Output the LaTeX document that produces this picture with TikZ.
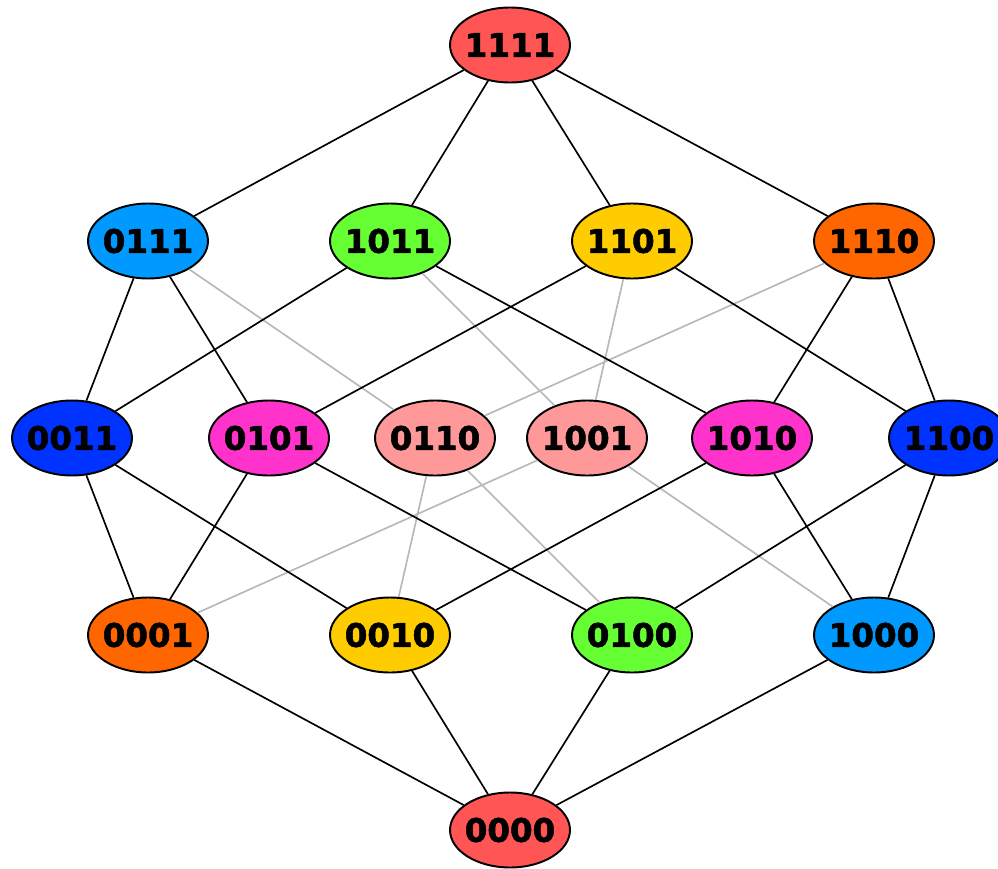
\documentclass[tikz,border=0pt]{standalone}
\usepackage{fontspec}
\setmainfont{DejaVu Sans}
\newfontfamily\rankfont{DejaVu Sans Bold}[FakeBold=1.6]
\usepackage{tikz}
\usetikzlibrary{shapes.geometric}

\definecolor{redtop}{HTML}{FF5555}
\definecolor{skyblue}{HTML}{0099FF}
\definecolor{limegreen}{HTML}{66FF33}
\definecolor{goldyellow}{HTML}{FFCC00}
\definecolor{darkorange}{HTML}{FF6600}
\definecolor{royalblue}{HTML}{0033FF}
\definecolor{hotpink}{HTML}{FF33CC}
\definecolor{salmonpink}{HTML}{FF9999}

\tikzset{
  elem/.style={ellipse, draw=black, line width=1.1pt, fill=#1,
    minimum width=2.4cm, minimum height=1.5cm, inner sep=-4pt,
    font=\rankfont\fontsize{18.5}{20}\selectfont},
  cover/.style={draw=black, line width=0.95pt},
  faint/.style={draw=black!28, line width=0.95pt}
}

\begin{document}
\begin{tikzpicture}[x=0.02cm, y=-0.02cm]
  \useasboundingbox (0,0) rectangle (998,869);
  % top and bottom
  \node[elem=redtop] (n1111) at (510,45) {1111};
  \node[elem=redtop] (n0000) at (510,830) {0000};
  % rank 3
  \node[elem=skyblue]    (n0111) at (148,241) {0111};
  \node[elem=limegreen]  (n1011) at (390,241) {1011};
  \node[elem=goldyellow] (n1101) at (632,241) {1101};
  \node[elem=darkorange] (n1110) at (874,241) {1110};
  % rank 2
  \node[elem=royalblue]  (n0011) at (72,438)  {0011};
  \node[elem=hotpink]    (n0101) at (269,438) {0101};
  \node[elem=salmonpink] (n0110) at (435,438) {0110};
  \node[elem=salmonpink] (n1001) at (587,438) {1001};
  \node[elem=hotpink]    (n1010) at (752,438) {1010};
  \node[elem=royalblue]  (n1100) at (949,438) {1100};
  % rank 1
  \node[elem=darkorange] (n0001) at (148,635) {0001};
  \node[elem=goldyellow] (n0010) at (390,635) {0010};
  \node[elem=limegreen]  (n0100) at (632,635) {0100};
  \node[elem=skyblue]    (n1000) at (874,635) {1000};

  % covering relations through 0110 and 1001
  \foreach \a/\b in {0111/0110, 1110/0110, 0110/0010, 0110/0100,
                     1011/1001, 1101/1001, 1001/0001, 1001/1000}
    \draw[faint] (n\a) -- (n\b);
  % the other covering relations
  \foreach \a/\b in {1111/0111, 1111/1011, 1111/1101, 1111/1110,
                     0111/0011, 0111/0101, 1011/0011, 1011/1010,
                     1101/0101, 1101/1100, 1110/1010, 1110/1100,
                     0011/0001, 0011/0010, 0101/0001, 0101/0100,
                     1010/0010, 1010/1000, 1100/0100, 1100/1000,
                     0001/0000, 0010/0000, 0100/0000, 1000/0000}
    \draw[cover] (n\a) -- (n\b);
\end{tikzpicture}
\end{document}
